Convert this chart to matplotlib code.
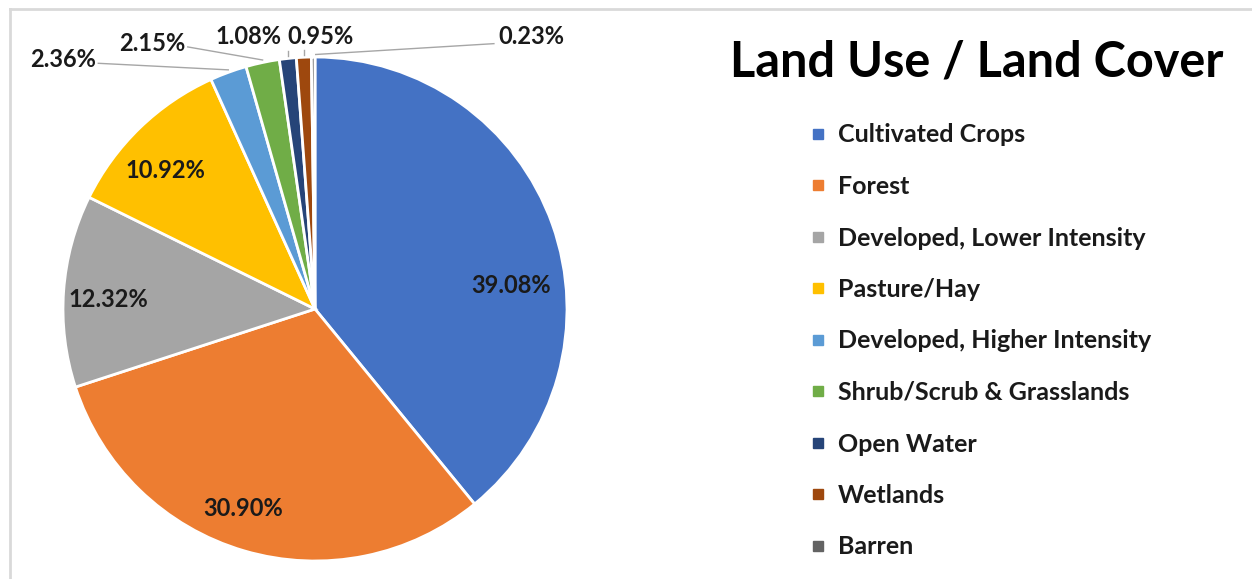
import matplotlib.pyplot as plt
import numpy as np
from matplotlib.lines import Line2D

categories = ['Cultivated Crops', 'Forest', 'Developed, Lower Intensity', 'Pasture/Hay',
              'Developed, Higher Intensity', 'Shrub/Scrub & Grasslands', 'Open Water',
              'Wetlands', 'Barren']
shares = [39.08, 30.90, 12.32, 10.92, 2.36, 2.15, 1.08, 0.95, 0.23]
pct_labels = ['39.08%', '30.90%', '12.32%', '10.92%', '2.36%', '2.15%', '1.08%', '0.95%', '0.23%']

colors = ['#4472C4', '#ED7D31', '#A5A5A5', '#FFC000', '#5B9BD5',
          '#70AD47', '#264478', '#9E480E', '#636363']

# label anchor positions in pie units (radius = 1)
label_xy = [(0.78, 0.095), (-0.286, -0.79), (-0.82, 0.036), (-0.595, 0.548),
            (-1.0, 0.99), (-0.645, 1.055), (-0.265, 1.083), (0.02, 1.083), (0.86, 1.083)]
# which labels sit outside and get a leader line
outside = [False, False, False, False, True, True, True, True, True]

plt.rcParams['font.family'] = ['Lato', 'DejaVu Sans']
W, H = 1252, 579
fig = plt.figure(figsize=(W / 100, H / 100), dpi=100)

# frame of the chart area (top and left edges visible)
fig.add_artist(Line2D([10 / W, 10 / W], [0, 1 - 9 / H], transform=fig.transFigure,
                      color='#d9d9d9', lw=2))
fig.add_artist(Line2D([10 / W, 1], [1 - 9 / H, 1 - 9 / H], transform=fig.transFigure,
                      color='#d9d9d9', lw=2))

cx, cy, R = 315, H - 309, 252
span = 1.3
ax = fig.add_axes([(cx - span * R) / W, (cy - span * R) / H, 2 * span * R / W, 2 * span * R / H])

wedges, _ = ax.pie(shares, colors=colors, startangle=90, counterclock=False,
                   wedgeprops=dict(edgecolor='white', linewidth=2))
ax.set_xlim(-span, span)
ax.set_ylim(-span, span)
ax.axis('off')

txt_color = '#1a1a1a'
for i, w in enumerate(wedges):
    lx, ly = label_xy[i]
    ax.text(lx, ly, pct_labels[i], ha='center', va='center', fontsize=17,
            fontweight='bold', color=txt_color)
    if outside[i]:
        mid = np.deg2rad((w.theta1 + w.theta2) / 2)
        px, py = np.cos(mid) * 1.0, np.sin(mid) * 1.0
        if i in (6, 7):
            # short vertical tick under the label
            ax.plot([px, px], [py + 0.01, py + 0.03], color='#a6a6a6', lw=1)
        elif i == 8:
            ax.plot([lx - 0.15, px + 0.01], [ly - 0.03, py + 0.01], color='#a6a6a6', lw=1)
        else:
            ax.plot([lx + 0.14, px], [ly - 0.015, py + 0.01], color='#a6a6a6', lw=1)

fig.text(977 / W, 1 - 62 / H, 'Land Use / Land Cover', ha='center', va='center',
         fontsize=35, fontweight='bold', color='black')

handles = [Line2D([0], [0], marker='s', color='none', markerfacecolor=c, markeredgecolor=c,
                  markersize=7) for c in colors]
fig.legend(handles, categories, loc='upper left', bbox_to_anchor=(788 / W, 1 - 101 / H),
           frameon=False, labelspacing=1.14, handlelength=0.6,
           handletextpad=0.5, prop={'weight': 'bold', 'size': 18}, labelcolor=txt_color)

fig.savefig('out.png', dpi=100)
